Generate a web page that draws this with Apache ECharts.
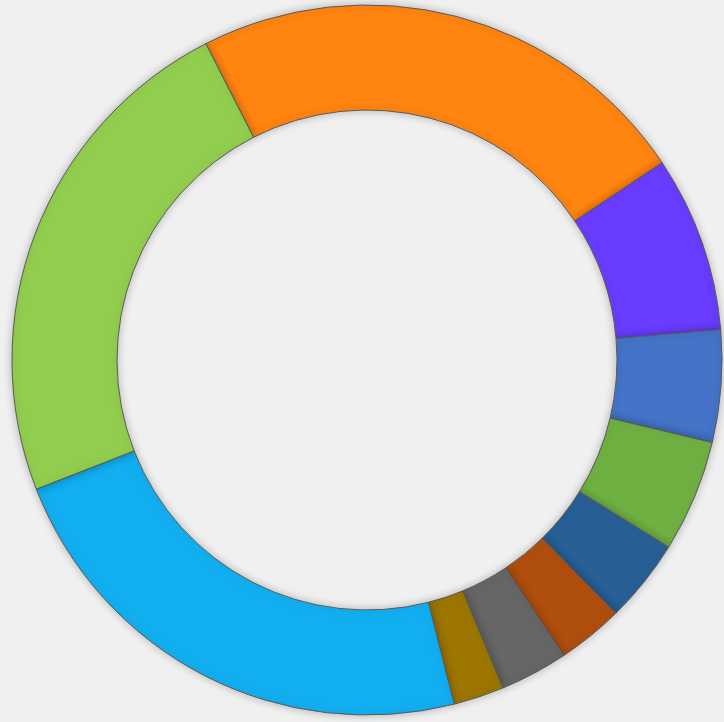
<!DOCTYPE html>
<html lang="en">
<head>
    <meta charset="UTF-8">
    <title>Donut</title>
    <script src="https://cdn.jsdelivr.net/npm/echarts@6/dist/echarts.min.js"></script>
    <style>
        html, body {
            margin: 0;
            padding: 0;
            background: #f0f0f0;
        }
        #chart {
            width: 724px;
            height: 722px;
        }
    </style>
</head>
<body>
<div id="chart"></div>
<script>
    // slices, clockwise from the orange one
    var categories = ['A', 'B', 'C', 'D', 'E', 'F', 'G', 'H', 'I', 'J'];
    var values = [23.1, 8.0, 5.1, 5.1, 3.8, 3.0, 3.1, 2.3, 23.0, 23.4];
    var colors = ['#ff8410', '#6a3cff', '#4473c8', '#6fb043', '#275f96',
                  '#b04e0e', '#666666', '#9d7600', '#12aff0', '#92ce4e'];

    var pieData = [];
    for (var i = 0; i < categories.length; i++) {
        pieData.push({
            name: categories[i],
            value: values[i],
            itemStyle: { color: colors[i] }
        });
    }

    var option = {
        backgroundColor: '#f0f0f0',
        animation: false,
        series: [
            {
                type: 'pie',
                center: [367, 360],
                radius: [250, 355],
                startAngle: 117,
                clockwise: true,
                label: { show: false },
                labelLine: { show: false },
                emphasis: { disabled: true },
                itemStyle: {
                    borderColor: '#5a5a5a',
                    borderWidth: 1,
                    shadowBlur: 8,
                    shadowColor: 'rgba(0,0,0,0.25)'
                },
                data: pieData
            }
        ]
    };
    var myChart = echarts.init(document.getElementById('chart'));
    myChart.setOption(option);
</script>
</body>
</html>
